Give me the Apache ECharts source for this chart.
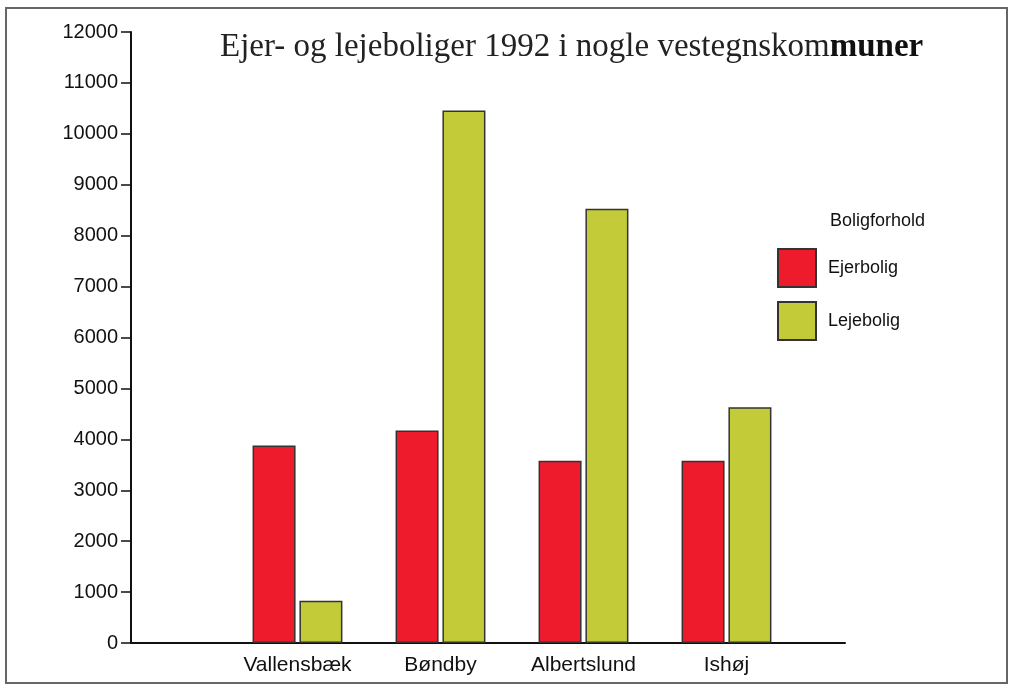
<!DOCTYPE html>
<html>
<head>
<meta charset="utf-8">
<script src="https://cdn.jsdelivr.net/npm/echarts@6/dist/echarts.min.js"></script>
<style>
html,body{margin:0;padding:0;background:#fff;}
#chart{width:1009px;height:688px;}
</style>
</head>
<body>
<div id="chart"></div>
<script>
var categories = ['Vallensbæk', 'Bøndby', 'Albertslund', 'Ishøj'];
var ejerbolig = [3880, 4175, 3580, 3580];
var lejebolig = [830, 10460, 8530, 4630];
var seriesNames = ['Ejerbolig', 'Lejebolig'];
var yMin = 0, yMax = 12000, yStep = 1000;
var titleMain = 'Ejer- og lejeboliger 1992 i nogle vestegnskom';
var titleTail = 'muner';
var legendTitle = 'Boligforhold';

var chart = echarts.init(document.getElementById('chart'));
var sans = '"Liberation Sans", Arial, Helvetica, sans-serif';
var serif = '"Liberation Serif", "Times New Roman", serif';
var option = {
  backgroundColor: '#ffffff',
  animation: false,
  title: [
    {
      text: '{a|' + titleMain + '}{b|' + titleTail + '}',
      left: 215, top: 26,
      textStyle: {
        fontWeight: 'normal',
        rich: {
          a: {fontFamily: serif, fontSize: 33, color: '#222', fontWeight: 'normal'},
          b: {fontFamily: serif, fontSize: 33, color: '#111', fontWeight: 'bold'}
        }
      }
    },
    {
      text: legendTitle,
      left: 825, top: 207,
      textStyle: {fontFamily: sans, fontSize: 18, fontWeight: 'normal', color: '#111'}
    }
  ],
  legend: {
    data: seriesNames,
    orient: 'vertical',
    left: 772, top: 243,
    itemWidth: 38, itemHeight: 38, itemGap: 13,
    icon: 'rect',
    textStyle: {fontFamily: sans, fontSize: 18, color: '#111', padding: [0, 0, 0, 7]}
  },
  graphic: [{
    type: 'rect',
    shape: {x: 6, y: 8, width: 1001, height: 675},
    style: {fill: 'none', stroke: '#666', lineWidth: 2},
    silent: true
  }],
  grid: [
    {left: 131, right: 164, top: 32, bottom: 45},
    {left: 226, right: 211, top: 32, bottom: 45}
  ],
  xAxis: [
    {
      gridIndex: 0, type: 'value', min: 0, max: 1, position: 'bottom',
      axisLine: {show: true, onZero: false, lineStyle: {color: '#111', width: 2}},
      axisTick: {show: false}, axisLabel: {show: false}, splitLine: {show: false}
    },
    {
      gridIndex: 1, type: 'category', data: categories,
      axisLine: {show: false}, axisTick: {show: false}, splitLine: {show: false},
      axisLabel: {fontFamily: sans, fontSize: 21, color: '#111', margin: 12}
    }
  ],
  yAxis: [
    {
      gridIndex: 0, type: 'value', min: yMin, max: yMax, interval: yStep,
      axisLine: {show: true, lineStyle: {color: '#111', width: 2}},
      axisTick: {show: true, length: 10, lineStyle: {color: '#111', width: 1.5}},
      axisLabel: {fontFamily: sans, fontSize: 20, color: '#111', margin: 13,
        formatter: function (v) { return String(v); }},
      splitLine: {show: false}
    },
    {
      gridIndex: 1, type: 'value', min: yMin, max: yMax, interval: yStep, show: false,
      splitLine: {show: false}
    }
  ],
  series: [
    {
      name: seriesNames[0], type: 'bar', xAxisIndex: 1, yAxisIndex: 1,
      data: ejerbolig, barWidth: 43, barGap: '9%',
      itemStyle: {color: '#ee1b2d', borderColor: '#333', borderWidth: 1.5}
    },
    {
      name: seriesNames[1], type: 'bar', xAxisIndex: 1, yAxisIndex: 1,
      data: lejebolig, barWidth: 43, barGap: '9%',
      itemStyle: {color: '#c3cb38', borderColor: '#333', borderWidth: 1.5}
    }
  ]
};
chart.setOption(option);
</script>
</body>
</html>
